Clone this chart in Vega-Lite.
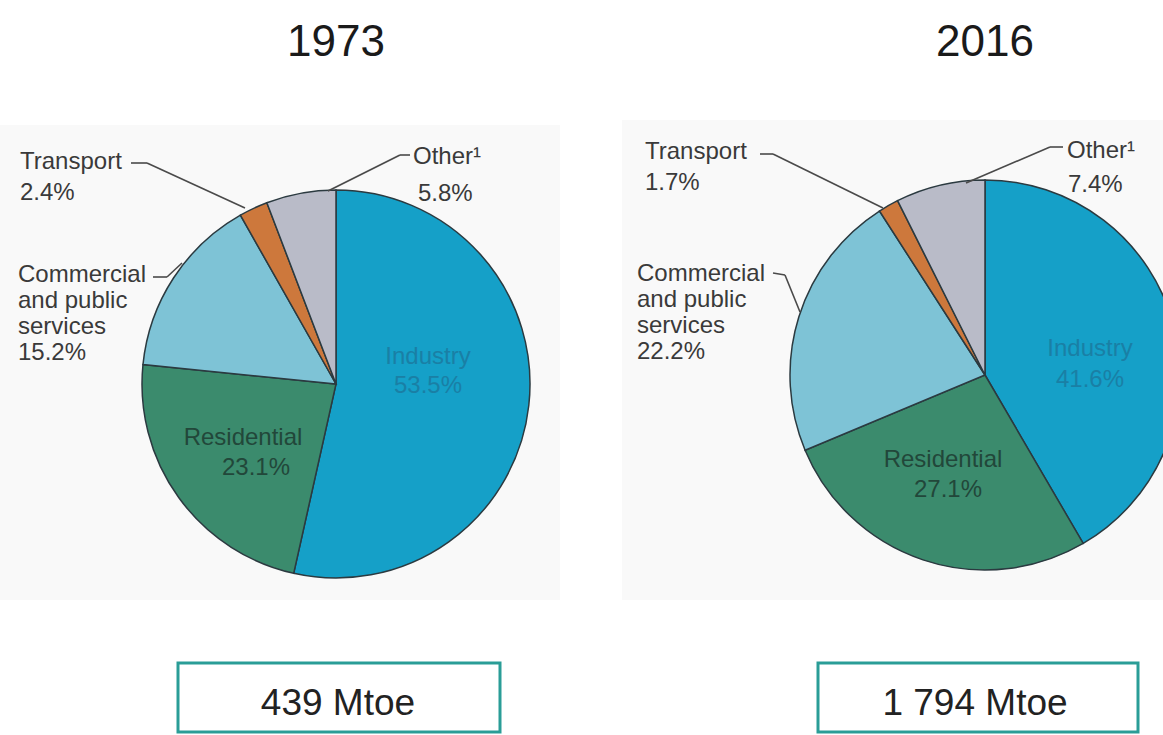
{
  "$schema": "https://vega.github.io/schema/vega-lite/v6.json",
  "background": "white",
  "padding": 0,
  "spacing": 0,
  "config": {
    "view": {"stroke": null},
    "axis": {"disable": true},
    "text": {"font": "Liberation Sans, Arial", "fill": "#3a3a3a", "baseline": "alphabetic", "fontSize": 24, "lineHeight": 26},
    "rule": {"stroke": "#4a4a4a", "strokeWidth": 1.6}
  },
  "datasets": {
    "shares": [
      {"year": "1973", "sector": "Industry", "label": "Industry", "order": 1, "share": 0.535},
      {"year": "1973", "sector": "Residential", "label": "Residential", "order": 2, "share": 0.231},
      {"year": "1973", "sector": "Commercial", "label": "Commercial\nand public\nservices", "order": 3, "share": 0.152},
      {"year": "1973", "sector": "Transport", "label": "Transport", "order": 4, "share": 0.024},
      {"year": "1973", "sector": "Other", "label": "Other¹", "order": 5, "share": 0.058},
      {"year": "2016", "sector": "Industry", "label": "Industry", "order": 1, "share": 0.416},
      {"year": "2016", "sector": "Residential", "label": "Residential", "order": 2, "share": 0.271},
      {"year": "2016", "sector": "Commercial", "label": "Commercial\nand public\nservices", "order": 3, "share": 0.222},
      {"year": "2016", "sector": "Transport", "label": "Transport", "order": 4, "share": 0.017},
      {"year": "2016", "sector": "Other", "label": "Other¹", "order": 5, "share": 0.074}
    ],
    "totals": [
      {"year": "1973", "total": "439 Mtoe"},
      {"year": "2016", "total": "1 794 Mtoe"}
    ]
  },
  "hconcat": [
    {
      "width": 560,
      "height": 735,
      "layer": [
        {
          "data": {"values": [{}]},
          "mark": {"type": "rect", "fill": "#f9f9f9"},
          "encoding": {
            "x": {"datum": -336, "type": "quantitative", "scale": {"domain": [-336, 224], "nice": false, "zero": false}, "axis": null},
            "x2": {"datum": 224},
            "y": {"datum": -259, "type": "quantitative", "scale": {"domain": [-384, 351], "reverse": true, "nice": false, "zero": false}, "axis": null},
            "y2": {"datum": 216}
          }
        },
        {
          "data": {"name": "shares"},
          "transform": [
            {"filter": "datum.year == '1973'"},
            {"stack": "share", "groupby": ["year"], "sort": [{"field": "order", "order": "ascending"}], "as": ["s0", "s1"]}
          ],
          "mark": {"type": "arc", "outerRadius": 194, "stroke": "#2b3a40", "strokeWidth": 1.5},
          "encoding": {
            "x": {"datum": 0, "type": "quantitative"},
            "y": {"datum": 0, "type": "quantitative"},
            "theta": {"field": "s0", "type": "quantitative", "scale": {"domain": [0, 1]}},
            "theta2": {"field": "s1"},
            "color": {"field": "sector", "type": "nominal", "legend": null,
              "scale": {"domain": ["Industry", "Residential", "Commercial", "Transport", "Other"], "range": ["#15a0c8", "#3b8b6d", "#7ec3d6", "#cd783c", "#b9bbc8"]}}
          }
        },
        {"data": {"name": "shares"}, "transform": [{"filter": "datum.year == '1973' && datum.sector == 'Industry'"}],
          "mark": {"type": "text", "align": "center", "fill": "#1a7fa5"},
          "encoding": {"x": {"datum": 92, "type": "quantitative"}, "y": {"datum": -20, "type": "quantitative"}, "text": {"field": "label"}}},
        {"data": {"name": "shares"}, "transform": [{"filter": "datum.year == '1973' && datum.sector == 'Industry'"}],
          "mark": {"type": "text", "align": "center", "fill": "#1a7fa5"},
          "encoding": {"x": {"datum": 92, "type": "quantitative"}, "y": {"datum": 9, "type": "quantitative"}, "text": {"field": "share", "type": "quantitative", "format": ".1%"}}},
        {"data": {"name": "shares"}, "transform": [{"filter": "datum.year == '1973' && datum.sector == 'Residential'"}],
          "mark": {"type": "text", "align": "center", "fill": "#22473a"},
          "encoding": {"x": {"datum": -93, "type": "quantitative"}, "y": {"datum": 61, "type": "quantitative"}, "text": {"field": "label"}}},
        {"data": {"name": "shares"}, "transform": [{"filter": "datum.year == '1973' && datum.sector == 'Residential'"}],
          "mark": {"type": "text", "align": "center", "fill": "#22473a"},
          "encoding": {"x": {"datum": -80, "type": "quantitative"}, "y": {"datum": 91, "type": "quantitative"}, "text": {"field": "share", "type": "quantitative", "format": ".1%"}}},
        {"data": {"name": "shares"}, "transform": [{"filter": "datum.year == '1973' && datum.sector == 'Commercial'"}],
          "mark": {"type": "text", "align": "left", "lineBreak": "\n"},
          "encoding": {"x": {"datum": -318, "type": "quantitative"}, "y": {"datum": -102, "type": "quantitative"}, "text": {"field": "label"}}},
        {"data": {"name": "shares"}, "transform": [{"filter": "datum.year == '1973' && datum.sector == 'Commercial'"}],
          "mark": {"type": "text", "align": "left"},
          "encoding": {"x": {"datum": -318, "type": "quantitative"}, "y": {"datum": -24, "type": "quantitative"}, "text": {"field": "share", "type": "quantitative", "format": ".1%"}}},
        {"data": {"name": "shares"}, "transform": [{"filter": "datum.year == '1973' && datum.sector == 'Transport'"}],
          "mark": {"type": "text", "align": "left"},
          "encoding": {"x": {"datum": -316, "type": "quantitative"}, "y": {"datum": -215, "type": "quantitative"}, "text": {"field": "label"}}},
        {"data": {"name": "shares"}, "transform": [{"filter": "datum.year == '1973' && datum.sector == 'Transport'"}],
          "mark": {"type": "text", "align": "left"},
          "encoding": {"x": {"datum": -316, "type": "quantitative"}, "y": {"datum": -184, "type": "quantitative"}, "text": {"field": "share", "type": "quantitative", "format": ".1%"}}},
        {"data": {"name": "shares"}, "transform": [{"filter": "datum.year == '1973' && datum.sector == 'Other'"}],
          "mark": {"type": "text", "align": "left"},
          "encoding": {"x": {"datum": 77, "type": "quantitative"}, "y": {"datum": -220, "type": "quantitative"}, "text": {"field": "label"}}},
        {"data": {"name": "shares"}, "transform": [{"filter": "datum.year == '1973' && datum.sector == 'Other'"}],
          "mark": {"type": "text", "align": "left"},
          "encoding": {"x": {"datum": 82, "type": "quantitative"}, "y": {"datum": -183, "type": "quantitative"}, "text": {"field": "share", "type": "quantitative", "format": ".1%"}}},
        {"data": {"values": [{}]}, "mark": "rule",
          "encoding": {"x": {"datum": -205, "type": "quantitative"}, "y": {"datum": -221, "type": "quantitative"}, "x2": {"datum": -189}, "y2": {"datum": -221}}},
        {"data": {"values": [{}]}, "mark": "rule",
          "encoding": {"x": {"datum": -189, "type": "quantitative"}, "y": {"datum": -221, "type": "quantitative"}, "x2": {"datum": -91}, "y2": {"datum": -176}}},
        {"data": {"values": [{}]}, "mark": "rule",
          "encoding": {"x": {"datum": 74, "type": "quantitative"}, "y": {"datum": -229, "type": "quantitative"}, "x2": {"datum": 64}, "y2": {"datum": -229}}},
        {"data": {"values": [{}]}, "mark": "rule",
          "encoding": {"x": {"datum": 64, "type": "quantitative"}, "y": {"datum": -229, "type": "quantitative"}, "x2": {"datum": -8}, "y2": {"datum": -193}}},
        {"data": {"values": [{}]}, "mark": "rule",
          "encoding": {"x": {"datum": -183, "type": "quantitative"}, "y": {"datum": -107, "type": "quantitative"}, "x2": {"datum": -169}, "y2": {"datum": -107}}},
        {"data": {"values": [{}]}, "mark": "rule",
          "encoding": {"x": {"datum": -169, "type": "quantitative"}, "y": {"datum": -107, "type": "quantitative"}, "x2": {"datum": -154}, "y2": {"datum": -121}}},
        {"data": {"name": "totals"}, "transform": [{"filter": "datum.year == '1973'"}],
          "mark": {"type": "text", "align": "center", "fontSize": 44, "fill": "#1a1a1a"},
          "encoding": {"x": {"datum": 0, "type": "quantitative"}, "y": {"datum": -328, "type": "quantitative"}, "text": {"field": "year"}}},
        {"data": {"name": "totals"}, "transform": [{"filter": "datum.year == '1973'"}],
          "mark": {"type": "rect", "fill": "white", "stroke": "#2a9d97", "strokeWidth": 3, "clip": true},
          "encoding": {"x": {"datum": -158, "type": "quantitative"}, "x2": {"datum": 164}, "y": {"datum": 279, "type": "quantitative"}, "y2": {"datum": 348}}},
        {"data": {"name": "totals"}, "transform": [{"filter": "datum.year == '1973'"}],
          "mark": {"type": "text", "align": "center", "fontSize": 37, "fill": "#222222"},
          "encoding": {"x": {"datum": 2, "type": "quantitative"}, "y": {"datum": 331, "type": "quantitative"}, "text": {"field": "total"}}}
      ]
    },
    {
      "width": 603,
      "height": 735,
      "layer": [
        {
          "data": {"values": [{}]},
          "mark": {"type": "rect", "fill": "#f9f9f9"},
          "encoding": {
            "x": {"datum": -363, "type": "quantitative", "scale": {"domain": [-425, 178], "nice": false, "zero": false}, "axis": null},
            "x2": {"datum": 178},
            "y": {"datum": -255, "type": "quantitative", "scale": {"domain": [-375, 360], "reverse": true, "nice": false, "zero": false}, "axis": null},
            "y2": {"datum": 225}
          }
        },
        {
          "data": {"name": "shares"},
          "transform": [
            {"filter": "datum.year == '2016'"},
            {"stack": "share", "groupby": ["year"], "sort": [{"field": "order", "order": "ascending"}], "as": ["s0", "s1"]}
          ],
          "mark": {"type": "arc", "outerRadius": 195, "stroke": "#2b3a40", "strokeWidth": 1.5, "clip": true},
          "encoding": {
            "x": {"datum": 0, "type": "quantitative"},
            "y": {"datum": 0, "type": "quantitative"},
            "theta": {"field": "s0", "type": "quantitative", "scale": {"domain": [0, 1]}},
            "theta2": {"field": "s1"},
            "color": {"field": "sector", "type": "nominal", "legend": null,
              "scale": {"domain": ["Industry", "Residential", "Commercial", "Transport", "Other"], "range": ["#15a0c8", "#3b8b6d", "#7ec3d6", "#cd783c", "#b9bbc8"]}}
          }
        },
        {"data": {"name": "shares"}, "transform": [{"filter": "datum.year == '2016' && datum.sector == 'Industry'"}],
          "mark": {"type": "text", "align": "center", "fill": "#1a7fa5"},
          "encoding": {"x": {"datum": 105, "type": "quantitative"}, "y": {"datum": -19, "type": "quantitative"}, "text": {"field": "label"}}},
        {"data": {"name": "shares"}, "transform": [{"filter": "datum.year == '2016' && datum.sector == 'Industry'"}],
          "mark": {"type": "text", "align": "center", "fill": "#1a7fa5"},
          "encoding": {"x": {"datum": 105, "type": "quantitative"}, "y": {"datum": 12, "type": "quantitative"}, "text": {"field": "share", "type": "quantitative", "format": ".1%"}}},
        {"data": {"name": "shares"}, "transform": [{"filter": "datum.year == '2016' && datum.sector == 'Residential'"}],
          "mark": {"type": "text", "align": "center", "fill": "#22473a"},
          "encoding": {"x": {"datum": -42, "type": "quantitative"}, "y": {"datum": 92, "type": "quantitative"}, "text": {"field": "label"}}},
        {"data": {"name": "shares"}, "transform": [{"filter": "datum.year == '2016' && datum.sector == 'Residential'"}],
          "mark": {"type": "text", "align": "center", "fill": "#22473a"},
          "encoding": {"x": {"datum": -37, "type": "quantitative"}, "y": {"datum": 122, "type": "quantitative"}, "text": {"field": "share", "type": "quantitative", "format": ".1%"}}},
        {"data": {"name": "shares"}, "transform": [{"filter": "datum.year == '2016' && datum.sector == 'Commercial'"}],
          "mark": {"type": "text", "align": "left", "lineBreak": "\n"},
          "encoding": {"x": {"datum": -348, "type": "quantitative"}, "y": {"datum": -94, "type": "quantitative"}, "text": {"field": "label"}}},
        {"data": {"name": "shares"}, "transform": [{"filter": "datum.year == '2016' && datum.sector == 'Commercial'"}],
          "mark": {"type": "text", "align": "left"},
          "encoding": {"x": {"datum": -348, "type": "quantitative"}, "y": {"datum": -16, "type": "quantitative"}, "text": {"field": "share", "type": "quantitative", "format": ".1%"}}},
        {"data": {"name": "shares"}, "transform": [{"filter": "datum.year == '2016' && datum.sector == 'Transport'"}],
          "mark": {"type": "text", "align": "left"},
          "encoding": {"x": {"datum": -340, "type": "quantitative"}, "y": {"datum": -216, "type": "quantitative"}, "text": {"field": "label"}}},
        {"data": {"name": "shares"}, "transform": [{"filter": "datum.year == '2016' && datum.sector == 'Transport'"}],
          "mark": {"type": "text", "align": "left"},
          "encoding": {"x": {"datum": -340, "type": "quantitative"}, "y": {"datum": -185, "type": "quantitative"}, "text": {"field": "share", "type": "quantitative", "format": ".1%"}}},
        {"data": {"name": "shares"}, "transform": [{"filter": "datum.year == '2016' && datum.sector == 'Other'"}],
          "mark": {"type": "text", "align": "left"},
          "encoding": {"x": {"datum": 82, "type": "quantitative"}, "y": {"datum": -217, "type": "quantitative"}, "text": {"field": "label"}}},
        {"data": {"name": "shares"}, "transform": [{"filter": "datum.year == '2016' && datum.sector == 'Other'"}],
          "mark": {"type": "text", "align": "left"},
          "encoding": {"x": {"datum": 83, "type": "quantitative"}, "y": {"datum": -183, "type": "quantitative"}, "text": {"field": "share", "type": "quantitative", "format": ".1%"}}},
        {"data": {"values": [{}]}, "mark": "rule",
          "encoding": {"x": {"datum": -225, "type": "quantitative"}, "y": {"datum": -221, "type": "quantitative"}, "x2": {"datum": -212}, "y2": {"datum": -221}}},
        {"data": {"values": [{}]}, "mark": "rule",
          "encoding": {"x": {"datum": -212, "type": "quantitative"}, "y": {"datum": -221, "type": "quantitative"}, "x2": {"datum": -102}, "y2": {"datum": -167}}},
        {"data": {"values": [{}]}, "mark": "rule",
          "encoding": {"x": {"datum": 78, "type": "quantitative"}, "y": {"datum": -228, "type": "quantitative"}, "x2": {"datum": 65}, "y2": {"datum": -228}}},
        {"data": {"values": [{}]}, "mark": "rule",
          "encoding": {"x": {"datum": 65, "type": "quantitative"}, "y": {"datum": -228, "type": "quantitative"}, "x2": {"datum": -19}, "y2": {"datum": -192}}},
        {"data": {"values": [{}]}, "mark": "rule",
          "encoding": {"x": {"datum": -212, "type": "quantitative"}, "y": {"datum": -102, "type": "quantitative"}, "x2": {"datum": -200}, "y2": {"datum": -100}}},
        {"data": {"values": [{}]}, "mark": "rule",
          "encoding": {"x": {"datum": -200, "type": "quantitative"}, "y": {"datum": -100, "type": "quantitative"}, "x2": {"datum": -185}, "y2": {"datum": -63}}},
        {"data": {"name": "totals"}, "transform": [{"filter": "datum.year == '2016'"}],
          "mark": {"type": "text", "align": "center", "fontSize": 44, "fill": "#1a1a1a"},
          "encoding": {"x": {"datum": 0, "type": "quantitative"}, "y": {"datum": -319, "type": "quantitative"}, "text": {"field": "year"}}},
        {"data": {"name": "totals"}, "transform": [{"filter": "datum.year == '2016'"}],
          "mark": {"type": "rect", "fill": "white", "stroke": "#2a9d97", "strokeWidth": 3, "clip": true},
          "encoding": {"x": {"datum": -167, "type": "quantitative"}, "x2": {"datum": 153}, "y": {"datum": 288, "type": "quantitative"}, "y2": {"datum": 357}}},
        {"data": {"name": "totals"}, "transform": [{"filter": "datum.year == '2016'"}],
          "mark": {"type": "text", "align": "center", "fontSize": 37, "fill": "#222222"},
          "encoding": {"x": {"datum": -10, "type": "quantitative"}, "y": {"datum": 340, "type": "quantitative"}, "text": {"field": "total"}}}
      ]
    }
  ]
}
